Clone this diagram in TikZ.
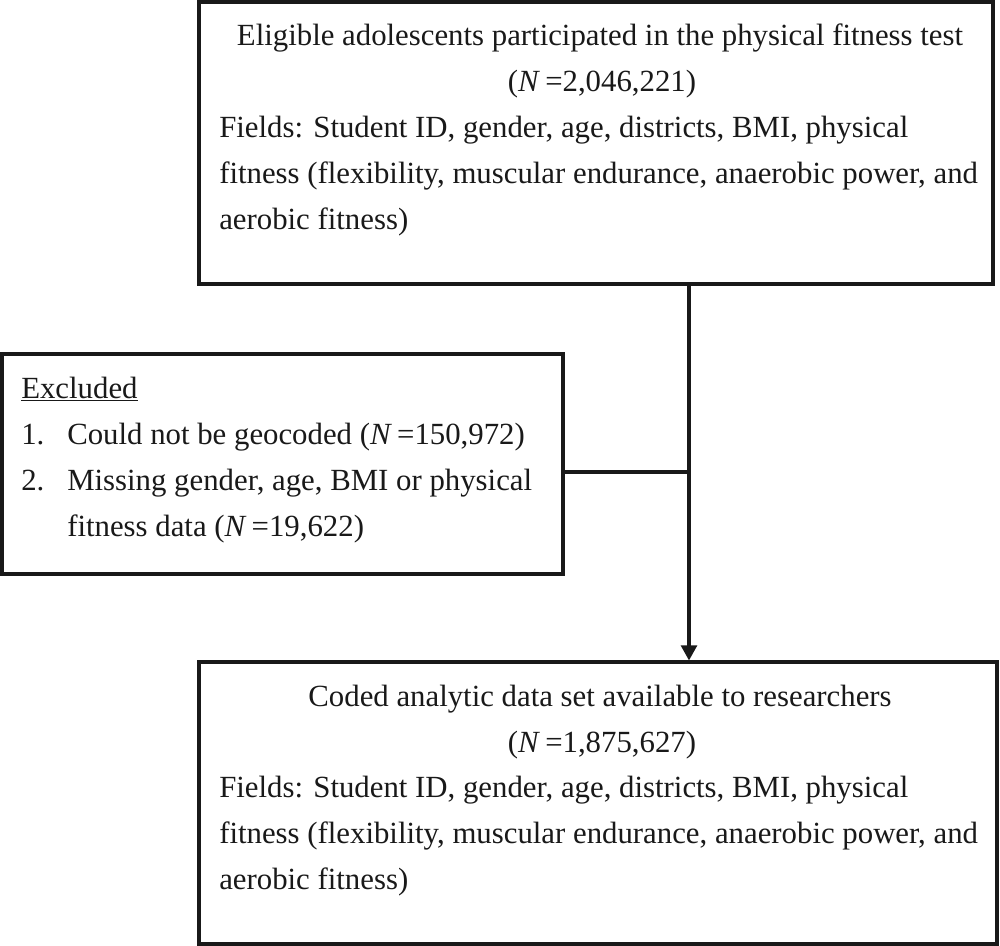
\documentclass[tikz,border=0pt]{standalone}
\usepackage{fontspec}
\setmainfont{Liberation Serif}
\usetikzlibrary{arrows.meta,fit}
\begin{document}
\begin{tikzpicture}[x=0.025cm,y=-0.025cm,
  box/.style={draw=black!90, line width=2.2pt, inner sep=0pt, rectangle},
  txt/.style={inner sep=0pt, font=\fontsize{21.9}{26}\selectfont, text=black!90},
  cline/.style={anchor=base, txt},
  lline/.style={anchor=base west, txt},
  link/.style={draw=black!90, line width=2.2pt}]
\useasboundingbox (0,0) rectangle (1000,946);
% boxes
\node[box, fit={(199,2) (993,284)}] (top) {};
\node[box, fit={(2,354) (563,574)}] (exc) {};
\node[box, fit={(199,662) (997,944)}] (bot) {};
% top box text
\node[cline] (t1) at (600,46) {Eligible adolescents participated in the physical fitness test};
\node[cline] (t2) at (602,92) {(\textit{N}\,=2,046,221)};
\node[lline] (t3) at (219,137) {Fields: Student ID, gender, age, districts, BMI, physical};
\node[lline] (t4) at (219,183) {fitness (flexibility, muscular endurance, anaerobic power, and};
\node[lline] (t5) at (219,229) {aerobic fitness)};
% excluded box text
\node[lline] (e0) at (21,398) {\underline{Excluded}};
\node[lline] (e1n) at (21,444) {1.};
\node[lline] (e1) at (67,444) {Could not be geocoded (\textit{N}\,=150,972)};
\node[lline] (e2n) at (21,490) {2.};
\node[lline] (e2) at (67,490) {Missing gender, age, BMI or physical};
\node[lline] (e3) at (67,536) {fitness data (\textit{N}\,=19,622)};
% bottom box text
\node[cline] (b1) at (600,706) {Coded analytic data set available to researchers};
\node[cline] (b2) at (602,752) {(\textit{N}\,=1,875,627)};
\node[lline] (b3) at (219,797) {Fields: Student ID, gender, age, districts, BMI, physical};
\node[lline] (b4) at (219,843) {fitness (flexibility, muscular endurance, anaerobic power, and};
\node[lline] (b5) at (219,889) {aerobic fitness)};
% connectors
\coordinate (j) at (689,472);
\draw[link] (top.south -| j) -- (j);
\draw[link, -{Triangle[length=0.38cm 0, width=0.4cm 0]}] (j) -- (bot.north -| j);
\draw[link] (exc.east |- j) -- (j);
\end{tikzpicture}
\end{document}
